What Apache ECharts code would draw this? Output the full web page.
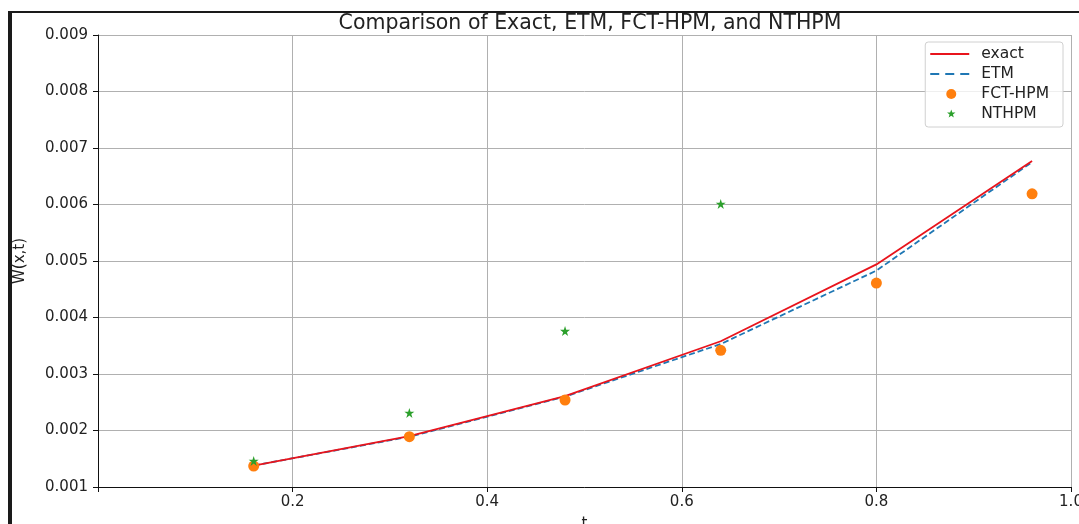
<!DOCTYPE html>
<html>
<head>
<meta charset="utf-8">
<script src="https://cdn.jsdelivr.net/npm/echarts@6/dist/echarts.min.js"></script>
<style>
  html, body { margin: 0; padding: 0; background: #fff; }
  #chartMount { width: 1079px; height: 524px; }
</style>
</head>
<body>
<div id="chartMount"></div>
<script>
  // 数据
  var tVals = [0.16, 0.32, 0.48, 0.64, 0.80, 0.96];
  var exactVals = [0.00138, 0.00190, 0.00261, 0.00358, 0.00494, 0.00677];
  var etmVals = [0.00138, 0.00189, 0.00260, 0.00353, 0.00483, 0.00675];
  var fctVals = [0.00137, 0.00189, 0.00254, 0.00342, 0.00461, 0.00619];
  var nthVals = [0.00146, 0.00231, 0.00376, 0.00601];
  var xTicks = [0.2, 0.4, 0.6, 0.8, 1.0];
  var yTicks = [0.001, 0.002, 0.003, 0.004, 0.005, 0.006, 0.007, 0.008, 0.009];

  function pairs(xs, ys) {
    var out = [];
    for (var i = 0; i < ys.length; i++) out.push([xs[i], ys[i]]);
    return out;
  }

  // 图例图标：用 M0,0 M39,14 撑出 39x14 的外框，让图标保持原始大小
  var BOX = 'M0,0 M39,14 ';
  var starPath = 'M5,0 L6.2,3.6 L10,3.6 L6.9,5.8 L8.1,9.5 L5,7.2 L1.9,9.5 L3.1,5.8 L0,3.6 L3.8,3.6 Z';
  var legendIcons = {
    exact: 'path://' + BOX + 'M0,6.1 L39,6.1 L39,7.9 L0,7.9 Z',
    ETM: 'path://' + BOX + 'M0,6.1 L9,6.1 L9,7.9 L0,7.9 Z M15,6.1 L24,6.1 L24,7.9 L15,7.9 Z M30,6.1 L39,6.1 L39,7.9 L30,7.9 Z',
    fct: 'path://' + BOX + 'M16,7 A5,5 0 1,1 26,7 A5,5 0 1,1 16,7 Z',
    nth: 'path://' + BOX + 'M21,2.6 L22.1,5.6 L25.2,5.6 L22.7,7.5 L23.6,10.6 L21,8.7 L18.4,10.6 L19.3,7.5 L16.8,5.6 L19.9,5.6 Z'
  };

  var font = 'DejaVu Sans';
  var app = echarts.init(document.getElementById('chartMount'));
  var option = {
    backgroundColor: '#fff',
    animation: false,
    title: {
      text: 'Comparison of Exact, ETM, FCT-HPM, and NTHPM',
      left: 585, top: 8, textAlign: 'center',
      textStyle: { fontFamily: font, fontSize: 20.5, fontWeight: 'normal', color: '#222' }
    },
    graphic: [
      { type: 'rect', shape: { x: 8, y: 11, width: 4, height: 513 }, style: { fill: '#1a1a1a' } },
      { type: 'rect', shape: { x: 8, y: 11, width: 1071, height: 2 }, style: { fill: '#1a1a1a' } }
    ],
    legend: {
      orient: 'vertical',
      right: 16, top: 42,
      padding: [4, 14, 5, 5],
      itemGap: 4,
      itemWidth: 39, itemHeight: 14,
      borderColor: '#d0d0d0', borderWidth: 1, borderRadius: 3,
      backgroundColor: 'rgba(255,255,255,0.8)',
      textStyle: { fontFamily: font, fontSize: 15.5, color: '#222', padding: [0, 0, 0, 7] },
      data: [
        { name: 'exact', icon: legendIcons.exact, itemStyle: { color: '#e8141c' } },
        { name: 'ETM', icon: legendIcons.ETM, itemStyle: { color: '#1f77b4' } },
        { name: 'FCT-HPM', icon: legendIcons.fct },
        { name: 'NTHPM', icon: legendIcons.nth }
      ]
    },
    grid: { left: 98, right: 8, top: 35, bottom: 37, outerBoundsMode: 'none' },
    xAxis: {
      type: 'value', min: 0, max: 1.0, interval: 0.2,
      name: 't', nameLocation: 'middle', nameGap: 30,
      nameTextStyle: { fontFamily: font, fontSize: 15, color: '#222' },
      axisLine: { onZero: false, lineStyle: { color: '#111', width: 1 } },
      axisTick: { show: true, length: 5, lineStyle: { color: '#111' } },
      axisLabel: {
        fontFamily: font, fontSize: 15, color: '#222', margin: 8,
        formatter: function (v) { return xTicks.indexOf(+v.toFixed(1)) >= 0 ? v.toFixed(1) : ''; }
      },
      splitLine: { show: true, lineStyle: { color: '#b0b0b0', width: 1 } }
    },
    yAxis: {
      type: 'value', min: 0.001, max: 0.009, interval: 0.001,
      name: 'W(x,t)', nameLocation: 'middle', nameGap: 70, nameRotate: 90,
      nameTextStyle: { fontFamily: font, fontSize: 15, color: '#222' },
      axisLine: { show: true, lineStyle: { color: '#111', width: 1 } },
      axisTick: { show: true, length: 5, lineStyle: { color: '#111' } },
      axisLabel: {
        fontFamily: font, fontSize: 15, color: '#222', margin: 10,
        formatter: function (v) { return v.toFixed(3); }
      },
      splitLine: { show: true, lineStyle: { color: '#b0b0b0', width: 1 } }
    },
    series: [
      {
        name: 'ETM', type: 'line', data: pairs(tVals, etmVals),
        symbol: 'none', z: 3,
        itemStyle: { color: '#1f77b4' },
        lineStyle: { color: '#1f77b4', width: 1.8, type: [6, 3] }
      },
      {
        name: 'exact', type: 'line', data: pairs(tVals, exactVals),
        symbol: 'none', z: 4,
        itemStyle: { color: '#e8141c' },
        lineStyle: { color: '#e8141c', width: 1.8 }
      },
      {
        name: 'FCT-HPM', type: 'scatter', data: pairs(tVals, fctVals),
        symbol: 'circle', symbolSize: 11, z: 5,
        itemStyle: { color: '#ff7f0e', opacity: 1 }
      },
      {
        name: 'NTHPM', type: 'scatter', data: pairs(tVals, nthVals),
        symbol: 'path://' + starPath,
        symbolSize: 10, z: 6,
        itemStyle: { color: '#2ca02c', opacity: 1 }
      }
    ]
  };
  app.setOption(option);
</script>
</body>
</html>
